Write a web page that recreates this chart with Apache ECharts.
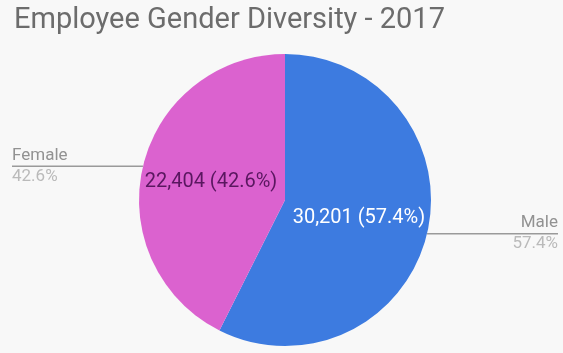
<!DOCTYPE html>
<html>
<head>
<meta charset="utf-8">
<script src="https://cdn.jsdelivr.net/npm/echarts@6/dist/echarts.min.js"></script>
<style>
  html, body { margin: 0; padding: 0; background: #f8f8f8; }
  #chart { width: 563px; height: 353px; }
</style>
</head>
<body>
<div id="chart"></div>
<script>
// Employee headcount by gender, 2017
const categories = ['Male', 'Female'];
const headcounts = [30201, 22404];
const sliceColors = ['#3d7be0', '#db62cf'];
const innerTextColors = ['#ffffff', '#5a1760'];

const total = headcounts.reduce((a, b) => a + b, 0);
const pct = v => (v / total * 100).toFixed(1) + '%';
const fmt = v => v.toLocaleString('en-US');

const slices = categories.map((name, i) => ({
  name,
  value: headcounts[i],
  itemStyle: { color: sliceColors[i] }
}));

const chart = echarts.init(document.getElementById('chart'));
const W = 563, EDGE = 12;

chart.setOption({
  backgroundColor: '#f8f8f8',
  animation: false,
  title: {
    text: 'Employee Gender Diversity - 2017',
    left: 9, top: 1,
    textStyle: { fontFamily: 'Roboto', fontWeight: 'normal', fontSize: 29, color: '#6c6c6c' }
  },
  series: [
    {
      // slices with value labels inside
      type: 'pie',
      center: [285, 200],
      radius: [0, 146],
      startAngle: 90,
      clockwise: true,
      data: slices.map((d, i) => ({
        ...d,
        label: { color: innerTextColors[i] }
      })),
      label: {
        position: 'inside',
        fontFamily: 'Roboto',
        fontSize: 20,
        formatter: p => fmt(p.value) + ' (' + pct(p.value) + ')'
      },
      labelLine: { show: false },
      emphasis: { disabled: true }
    },
    {
      // transparent overlay carrying the outer name / percent labels
      type: 'pie',
      center: [285, 200],
      radius: [0, 146],
      startAngle: 90,
      clockwise: true,
      silent: true,
      data: slices.map(d => ({ name: d.name, value: d.value, itemStyle: { color: 'rgba(0,0,0,0)' } })),
      label: {
        position: 'outside',
        fontFamily: 'Roboto',
        formatter: p => '{n|' + p.name + '}\n{p|' + pct(p.value) + '}',
        rich: {
          n: { fontSize: 17, color: '#929292', lineHeight: 21 },
          p: { fontSize: 17, color: '#bababa', lineHeight: 21 }
        }
      },
      labelLine: { show: true, length: 10, length2: 10, lineStyle: { color: '#9a9a9a', width: 1.5 } },
      labelLayout: params => {
        const pts = params.labelLinePoints;
        const start = pts[0];
        const left = start[0] < 285;
        const endX = left ? EDGE : W - 5;
        return {
          x: endX,
          y: start[1],
          align: left ? 'left' : 'right',
          verticalAlign: 'middle',
          labelLinePoints: [start, [start[0], start[1]], [endX, start[1]]]
        };
      },
      emphasis: { disabled: true }
    }
  ]
});
</script>
</body>
</html>
